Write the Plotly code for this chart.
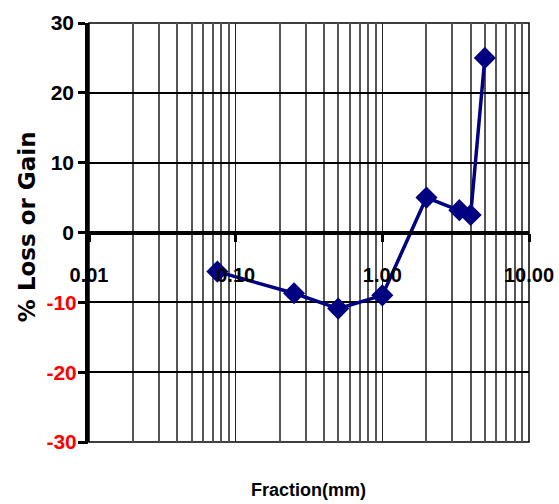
import plotly.graph_objects as go

# Sieve fraction sizes (mm) and percentage loss / gain per fraction
fraction_mm = [0.075, 0.25, 0.5, 1.0, 2.0, 3.35, 4.0, 5.0]
loss_gain_pct = [-5.6, -8.7, -10.9, -9.0, 5.0, 3.2, 2.5, 25.0]

# Axis ticks
x_tick_vals = [0.01, 0.1, 1, 10]
x_tick_text = ["0.01", "0.10", "1.00", "10.00"]
x_minor_vals = [m * d for d in (0.01, 0.1, 1) for m in range(2, 10)]
y_tick_vals = [-30, -20, -10, 0, 10, 20, 30]

# Non-negative labels in black on the main axis, negative labels in red on an overlay
y_main_text = [str(v) if v >= 0 else "" for v in y_tick_vals]
y_neg_vals = [v for v in y_tick_vals if v < 0]
y_neg_text = [str(v) for v in y_neg_vals]

NAVY = "#000080"
FONT = "Liberation Sans, Arial, sans-serif"

fig = go.Figure()
fig.add_trace(
    go.Scatter(
        x=fraction_mm,
        y=loss_gain_pct,
        mode="lines+markers",
        line=dict(color=NAVY, width=3.5),
        marker=dict(symbol="diamond", size=17, color=NAVY),
        showlegend=False,
    )
)
# empty trace so the overlay axis carrying the red labels is drawn
fig.add_trace(
    go.Scatter(x=[None], y=[None], yaxis="y2", showlegend=False, hoverinfo="skip")
)

fig.update_layout(
    width=559,
    height=504,
    margin=dict(l=89, r=30, t=23, b=62),
    paper_bgcolor="white",
    plot_bgcolor="white",
    xaxis=dict(
        type="log",
        range=[-2, 1],
        tickmode="array",
        tickvals=x_tick_vals,
        ticktext=x_tick_text,
        tickfont=dict(family=FONT, size=20, color="black", weight="bold"),
        ticks="outside",
        ticklen=8,
        tickwidth=3,
        tickcolor="black",
        ticklabelstandoff=16,
        showline=True,
        linewidth=3.5,
        linecolor="black",
        anchor="free",
        position=0.5,
        automargin=False,
        showgrid=True,
        gridcolor="#222222",
        gridwidth=1.2,
        zeroline=False,
        minor=dict(
            tickmode="array",
            tickvals=x_minor_vals,
            showgrid=True,
            gridcolor="#555555",
            gridwidth=1.5,
            ticks="",
        ),
    ),
    yaxis=dict(
        range=[-30, 30],
        tickmode="array",
        tickvals=y_tick_vals,
        ticktext=y_main_text,
        tickfont=dict(family=FONT, size=21, color="black", weight="bold"),
        ticks="outside",
        ticklen=7,
        tickwidth=3,
        tickcolor="black",
        showline=True,
        linewidth=3.5,
        linecolor="black",
        automargin=False,
        showgrid=True,
        gridcolor="black",
        gridwidth=1.5,
        zeroline=False,
    ),
    yaxis2=dict(
        overlaying="y",
        side="left",
        range=[-30, 30],
        tickmode="array",
        tickvals=y_neg_vals,
        ticktext=y_neg_text,
        tickfont=dict(family=FONT, size=21, color="#ff0000", weight="bold"),
        ticks="outside",
        ticklen=7,
        tickwidth=3,
        tickcolor="black",
        showline=False,
        showgrid=False,
        zeroline=False,
        automargin=False,
    ),
    shapes=[
        # thin frame around the plotting area
        dict(
            type="rect",
            xref="x domain",
            yref="y domain",
            x0=0,
            x1=1,
            y0=0,
            y1=1,
            line=dict(color="black", width=1.5),
            layer="below",
        )
    ],
    annotations=[
        dict(
            text="% Loss or Gain",
            textangle=-90,
            xref="paper",
            yref="paper",
            x=-0.141,
            y=0.515,
            xanchor="center",
            yanchor="middle",
            showarrow=False,
            font=dict(family="DejaVu Sans", size=23, color="black", weight="bold"),
        ),
        dict(
            text="Fraction(mm)",
            xref="paper",
            yref="paper",
            x=0.498,
            y=-0.1146,
            xanchor="center",
            yanchor="middle",
            showarrow=False,
            font=dict(family=FONT, size=18, color="black", weight="bold"),
        ),
    ],
)

fig.write_html("out.html")
